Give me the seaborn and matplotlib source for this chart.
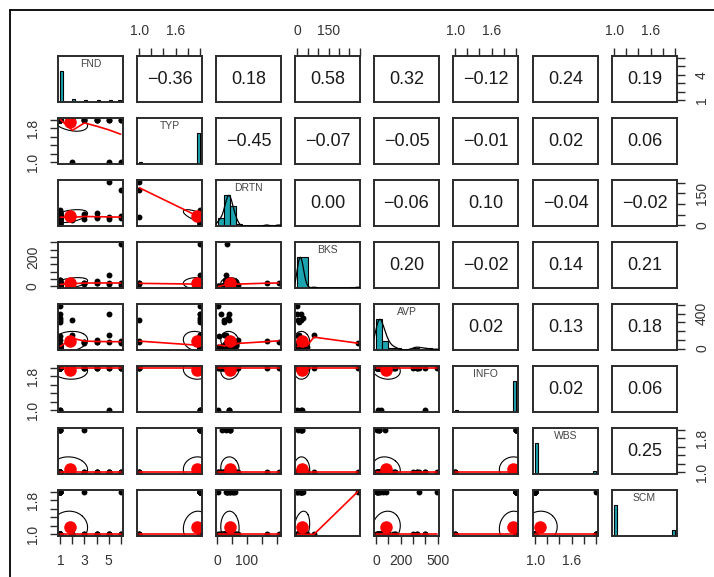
import numpy as np
import pandas as pd
import seaborn as sns
import matplotlib.pyplot as plt
from matplotlib.lines import Line2D

# ---- data (one value per respondent) ----
names = ["FND", "TYP", "DRTN", "BKS", "AVP", "INFO", "WBS", "SCM"]

fnd = [1, 1, 1, 1, 1, 1, 1, 1, 1, 1,
       1, 1, 1, 1, 1, 1, 1, 1, 1, 1,
       1, 1, 1, 1, 1, 1, 1, 1, 1, 1,
       1, 1, 1, 1, 1, 1, 1, 1, 1, 1,
       2, 2, 2, 2, 3, 3, 3, 4, 4, 4,
       5, 5, 5, 6, 6, 6, 1, 1, 1, 1]
typ = [2, 2, 2, 2, 2, 2, 2, 2, 2, 2,
       2, 2, 2, 2, 2, 2, 2, 2, 2, 2,
       2, 2, 2, 2, 2, 2, 2, 2, 2, 2,
       2, 2, 2, 2, 2, 2, 2, 2, 2, 2,
       1, 2, 2, 2, 2, 2, 2, 2, 2, 2,
       1, 2, 2, 1, 2, 2, 2, 2, 2, 2]
drtn = [25, 30, 35, 40, 45, 42, 38, 48, 52, 55,
        20, 28, 33, 44, 46, 50, 58, 62, 36, 41,
        15, 47, 65, 39, 12, 5, 25, 8, 70, 43,
        30, 35, 50, 22, 5, 40, 55, 45, 38, 32,
        40, 35, 50, 25, 45, 30, 55, 40, 60, 35,
        205, 40, 30, 165, 35, 45, 18, 60, 27, 48]
bks = [10, 5, 15, 20, 0, 25, 12, 30, 8, 18,
       3, 40, 22, 6, 35, 14, 28, 2, 45, 9,
       4, 26, 16, 11, 0, 0, 2, 3, 10, 20,
       15, 5, 30, 8, 0, 20, 12, 18, 25, 6,
       15, 20, 30, 10, 20, 25, 15, 25, 35, 20,
       20, 18, 80, 25, 290, 10, 5, 22, 0, 12]
avp = [15, 20, 25, 30, 10, 35, 40, 45, 30, 5,
       12, 22, 38, 18, 28, 8, 22, 32, 15, 44,
       3, 26, 42, 18, 400, 490, 330, 140, 100, 20,
       10, 35, 45, 300, 15, 40, 25, 27, 350, 20,
       330, 60, 90, 150, 70, 60, 80, 100, 70, 80,
       80, 400, 150, 90, 60, 80, 25, 35, 48, 16]
info = [2, 2, 2, 2, 2, 2, 2, 2, 2, 2,
        2, 2, 2, 2, 2, 2, 2, 2, 2, 2,
        2, 2, 2, 2, 2, 2, 2, 2, 2, 2,
        2, 2, 2, 2, 1, 1, 2, 2, 2, 2,
        2, 2, 2, 2, 2, 2, 2, 2, 2, 2,
        2, 1, 2, 2, 2, 2, 2, 2, 2, 2]
wbs = [1, 1, 1, 1, 1, 1, 1, 1, 1, 1,
       1, 1, 1, 1, 1, 1, 1, 1, 1, 1,
       1, 1, 1, 1, 1, 1, 1, 1, 1, 2,
       2, 1, 1, 1, 1, 1, 1, 2, 1, 1,
       1, 1, 1, 1, 2, 1, 1, 1, 1, 1,
       1, 1, 1, 1, 1, 1, 2, 1, 1, 1]
scm = [1, 1, 2, 1, 2, 1, 1, 1, 1, 2,
       1, 1, 1, 2, 1, 1, 1, 1, 1, 1,
       1, 1, 1, 1, 1, 2, 1, 1, 1, 1,
       2, 1, 1, 1, 1, 1, 1, 1, 2, 1,
       1, 1, 1, 1, 1, 1, 2, 1, 1, 1,
       1, 1, 1, 1, 2, 1, 1, 2, 1, 1]

# correlations printed in the upper panels (row by row)
corr_upper = [
    [-0.36, 0.18, 0.58, 0.32, -0.12, 0.24, 0.19],
    [-0.45, -0.07, -0.05, -0.01, 0.02, 0.06],
    [0.00, -0.06, 0.10, -0.04, -0.02],
    [0.20, -0.02, 0.14, 0.21],
    [0.02, 0.13, 0.18],
    [0.02, 0.06],
    [0.25],
]

# axis ticks per variable
tick_fnd = [1, 2, 3, 4, 5, 6]
tick_bin = [1.0, 1.2, 1.4, 1.6, 1.8, 2.0]
tick_drtn = [0, 50, 100, 150, 200]
tick_bks = [0, 50, 100, 150, 200, 250, 300]
tick_avp = [0, 100, 200, 300, 400, 500]

df = pd.DataFrame({"FND": fnd, "TYP": typ, "DRTN": drtn, "BKS": bks,
                   "AVP": avp, "INFO": info, "WBS": wbs, "SCM": scm})

ticks = {"FND": tick_fnd, "TYP": tick_bin, "DRTN": tick_drtn, "BKS": tick_bks,
         "AVP": tick_avp, "INFO": tick_bin, "WBS": tick_bin, "SCM": tick_bin}
bins = {"FND": np.arange(1, 6.01, 0.25), "TYP": np.arange(1, 2.01, 0.05),
        "DRTN": np.arange(5, 226, 20), "BKS": np.arange(0, 301, 50),
        "AVP": np.arange(0, 501, 50), "INFO": np.arange(1, 2.01, 0.05),
        "WBS": np.arange(1, 2.01, 0.05), "SCM": np.arange(1, 2.01, 0.05)}
continuous = ["DRTN", "BKS", "AVP"]

# labels shown on each outer side
top_lab = {1: {1.0: "1.0", 1.6: "1.6"}, 3: {0: "0", 150: "150"},
           5: {1.0: "1.0", 1.6: "1.6"}, 7: {1.0: "1.0", 1.6: "1.6"}}
bottom_lab = {0: {1: "1", 3: "3", 5: "5"}, 2: {0: "0", 100: "100"},
              4: {0: "0", 200: "200", 500: "500"}, 6: {1.0: "1.0", 1.6: "1.6"}}
left_lab = {1: {1.0: "1.0", 1.8: "1.8"}, 3: {0: "0", 200: "200"},
            5: {1.0: "1.0", 1.8: "1.8"}, 7: {1.0: "1.0", 1.8: "1.8"}}
right_lab = {0: {1: "1", 4: "4"}, 2: {0: "0", 150: "150"},
             4: {0: "0", 400: "400"}, 6: {1.0: "1.0", 1.8: "1.8"}}

sns.set_style("white")
plt.rcParams["font.family"] = ["Liberation Sans", "DejaVu Sans"]

W, H = 714, 577
col_left = [58, 137, 216, 295, 374, 453, 533, 612]
row_top = [56, 118, 180, 242, 304, 366, 428, 490]
pw, ph = 65, 46

fig = plt.figure(figsize=(W / 100, H / 100), dpi=100)
fig.add_artist(Line2D([10 / W, 1], [1 - 10 / H, 1 - 10 / H], color="black", lw=1.3))
fig.add_artist(Line2D([10 / W, 10 / W], [0, 1 - 10 / H], color="black", lw=1.3))


def limits(v):
    lo, hi = df[v].min(), df[v].max()
    pad = (hi - lo) * 0.04
    return lo - pad, hi + pad


def fmt_ticks(labs, tks):
    return [labs.get(t, "") for t in tks]


def lowess(x, y, f=2 / 3, iters=3):
    # robust locally weighted line, like R's lowess()
    idx = np.argsort(x, kind="mergesort")
    x = np.asarray(x, float)[idx]
    y = np.asarray(y, float)[idx]
    n = len(x)
    ns = max(min(int(f * n + 1e-7), n), 2)
    rw = np.ones(n)
    fit = np.zeros(n)
    for it in range(iters + 1):
        for k in range(n):
            dist = np.abs(x - x[k])
            h = np.sort(dist)[ns - 1]
            w0 = np.zeros(n)
            if h > 0:
                near = dist <= 0.999 * h
                w0[near] = (1 - (dist[near] / h) ** 3) ** 3
                w0[dist <= 0.001 * h] = 1
            else:
                w0[dist == 0] = 1
            w = w0 * rw
            if w.sum() <= 0:
                w = w0
            w = w / w.sum()
            xm = (w * x).sum()
            c = (w * (x - xm) ** 2).sum()
            if h > 0 and np.sqrt(c) > 0.001 * (x[-1] - x[0]):
                b = (w * (x - xm) * y).sum() / c
                fit[k] = (w * y).sum() + b * (x[k] - xm)
            else:
                fit[k] = (w * y).sum()
        res = y - fit
        cmad = 6 * np.median(np.abs(res))
        if cmad < 1e-7 * np.mean(np.abs(y)):
            break
        u = np.abs(res) / cmad
        rw = np.where(u < 1, (1 - u ** 2) ** 2, 0.0)
    return x, fit


def ellipse(ax, x, y):
    mx, my = x.mean(), y.mean()
    sx, sy = x.std(), y.std()
    r = np.corrcoef(x, y)[0, 1]
    d = np.arccos(r)
    t = np.linspace(0, 2 * np.pi, 120)
    ax.plot(mx + sx * np.cos(t + d / 2), my + sy * np.cos(t - d / 2),
            color="black", lw=0.8)


for i, vy in enumerate(names):
    for j, vx in enumerate(names):
        ax = fig.add_axes([col_left[j] / W, 1 - (row_top[i] + ph) / H, pw / W, ph / H])
        ax.set_xlim(limits(vx))
        if i == j:
            sns.histplot(x=df[vx], bins=bins[vx], ax=ax, color="#1ca3b0",
                         edgecolor="black", linewidth=0.8, alpha=1)
            top = max(p.get_height() for p in ax.patches)
            ax.set_ylim(0, top * 1.5)
            if vx in continuous:
                ax2 = ax.twinx()
                sns.kdeplot(x=df[vx], ax=ax2, color="black", lw=0.9, bw_adjust=0.6)
                ax2.set_ylim(0, ax2.lines[0].get_ydata().max() * 1.5)
                ax2.set_axis_off()
            ax.text(0.5, 0.83, vx, transform=ax.transAxes, ha="center", va="center",
                    fontsize=7.5, color="#444444")
        elif i > j:
            ax.set_ylim(limits(vy))
            sns.scatterplot(x=df[vx], y=df[vy], ax=ax, color="black", s=18, linewidth=0)
            ellipse(ax, df[vx], df[vy])
            lx, ly = lowess(df[vx].values, df[vy].values)
            sns.lineplot(x=lx, y=ly, ax=ax, color="red", lw=1.2, sort=False, estimator=None)
            ax.plot(df[vx].mean(), df[vy].mean(), "o", color="red", ms=8)
        else:
            ax.set_ylim(limits(vy))
            ax.text(0.5, 0.5, f"{corr_upper[i][j - i - 1]:.2f}".replace("-", "\u2212"),
                    transform=ax.transAxes, ha="center", va="center",
                    fontsize=13, color="#1a1a1a")
        ax.set_xlabel("")
        ax.set_ylabel("")
        ax.set_xticks([])
        ax.set_yticks([])
        for s in ax.spines.values():
            s.set_visible(True)
            s.set_color("#2b2b2b")
            s.set_linewidth(1.4)
        ax.tick_params(direction="out", length=6, width=1, pad=7, labelsize=10,
                       colors="#2b2b2b", labelcolor="#333333")
        # outer axes
        if i == 0 and j in top_lab:
            ax.xaxis.set_ticks_position("top")
            ax.set_xticks(ticks[vx])
            ax.set_xticklabels(fmt_ticks(top_lab[j], ticks[vx]))
            ax.tick_params(axis="x", top=True, labeltop=True, bottom=False, labelbottom=False)
        if i == 7 and j in bottom_lab:
            ax.set_xticks(ticks[vx])
            ax.set_xticklabels(fmt_ticks(bottom_lab[j], ticks[vx]))
            ax.tick_params(axis="x", bottom=True, labelbottom=True)
        if j == 0 and i in left_lab:
            ax.set_yticks(ticks[vy])
            ax.set_yticklabels(fmt_ticks(left_lab[i], ticks[vy]), rotation=90, va="center")
            ax.tick_params(axis="y", left=True, labelleft=True)
        if j == 7 and i in right_lab:
            ax.yaxis.set_ticks_position("right")
            ax.set_yticks(ticks[vy])
            ax.set_yticklabels(fmt_ticks(right_lab[i], ticks[vy]), rotation=90, va="center")
            ax.tick_params(axis="y", right=True, labelright=True, left=False, labelleft=False)

fig.savefig("out.png", dpi=100)
